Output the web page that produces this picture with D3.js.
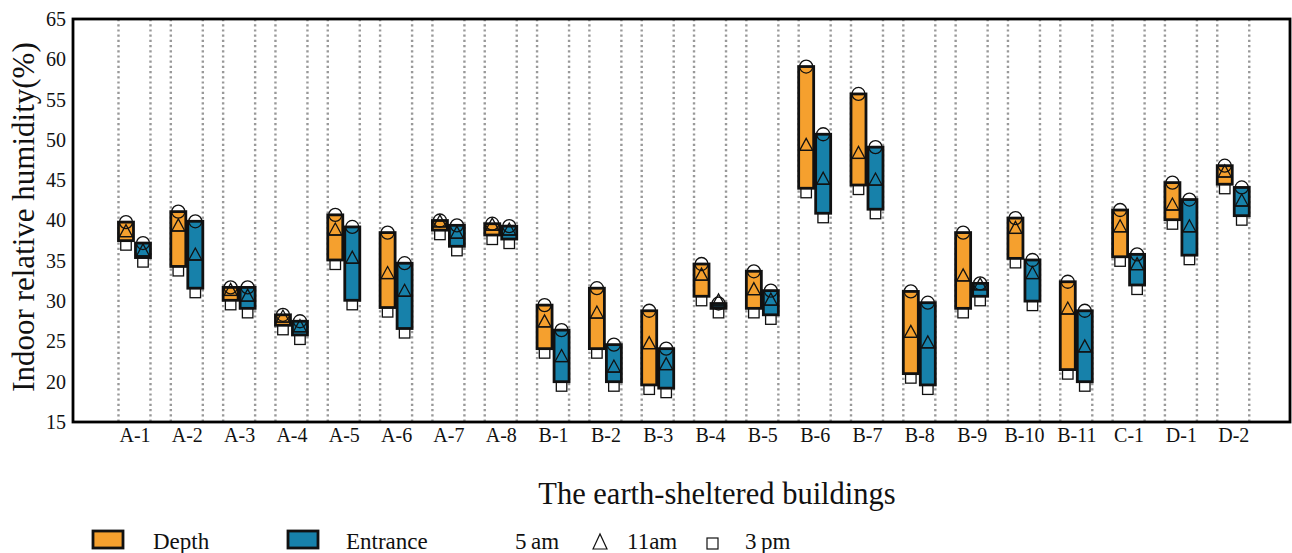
<!DOCTYPE html>
<html>
<head>
<meta charset="utf-8">
<script src="https://cdn.jsdelivr.net/npm/d3@7"></script>
<style>
  html, body { margin: 0; padding: 0; background: #fff; }
  svg text { font-family: "Liberation Serif", "Times New Roman", serif !important; }
</style>
</head>
<body>
<svg id="chart" width="1292" height="553"></svg>
<script>
// Indoor relative humidity of earth-sheltered buildings:
// each building has a Depth and an Entrance range (5 am → 3 pm), with the 11 am reading marked.
const categories = ["A-1","A-2","A-3","A-4","A-5","A-6","A-7","A-8",
  "B-1","B-2","B-3","B-4","B-5","B-6","B-7","B-8","B-9","B-10","B-11",
  "C-1","D-1","D-2"];

const depth5am  = [39.8,41.1,31.7,28.3,40.7,38.5,40.0,39.6,29.5,31.6,28.8,34.6,33.7,59.1,55.7,31.2,38.5,40.3,32.4,41.3,44.7,46.8];
const depth11am = [38.0,38.7,30.7,27.4,38.2,32.8,39.2,38.8,26.8,27.9,24.1,32.6,30.8,48.7,47.7,25.5,32.5,38.4,28.4,38.6,41.3,45.4];
const depth3pm  = [37.5,34.3,30.1,27.0,35.1,29.2,38.8,38.2,24.1,24.1,19.6,30.6,29.1,44.0,44.4,21.0,29.1,35.3,21.5,35.5,40.1,44.5];

const entrance5am  = [37.2,39.9,31.7,27.5,39.2,34.7,39.4,39.3,26.4,24.6,24.1,29.7,31.3,50.7,49.1,29.8,32.2,35.1,28.8,35.8,42.6,44.1];
const entrance11am = [35.6,35.1,30.0,26.2,34.7,30.6,37.8,38.2,22.5,21.2,21.5,29.4,29.5,44.5,44.4,24.2,31.4,32.8,23.7,33.9,38.6,41.8];
const entrance3pm  = [35.4,31.6,29.1,25.8,30.1,26.6,36.8,37.7,20.0,20.0,19.2,29.1,28.3,40.9,41.4,19.6,30.6,30.0,20.0,32.0,35.7,40.6];

const yTicks = [15,20,25,30,35,40,45,50,55,60,65];

const seriesNames = ["Depth", "Entrance"];
const seriesColors = ["#F5A02E", "#1781AA"];
const timeLabels = ["5\u2009am", "11am", "3\u2009pm"];

const svg = d3.select("#chart");
const plot = { left: 73, right: 1290, top: 19, bottom: 422 };

const x = d3.scalePoint().domain(categories).range([plot.left, plot.right]).padding(1.13).align(0.52);
const y = d3.scaleLinear().domain([15, 65]).range([plot.bottom, plot.top]);

const halfW = 16;   // half of a building's slot (two bars side by side)
const barW = 15;

// dotted separators at the outer edges of each building's pair of bars
const grid = svg.append("g");
categories.forEach(c => {
  [x(c) - halfW, x(c) + halfW].forEach(gx => {
    grid.append("line")
      .attr("x1", gx).attr("x2", gx)
      .attr("y1", plot.top).attr("y2", plot.bottom)
      .attr("stroke", "#999").attr("stroke-width", 2.4)
      .attr("stroke-dasharray", "2.2,3");
  });
});

// build row records from the arrays
const rows = [];
categories.forEach((c, i) => {
  rows.push({ cat: c, s: 0, am5: depth5am[i], am11: depth11am[i], pm3: depth3pm[i] });
  rows.push({ cat: c, s: 1, am5: entrance5am[i], am11: entrance11am[i], pm3: entrance3pm[i] });
});
const barX = d => d.s === 0 ? x(d.cat) - 1 - barW : x(d.cat) + 1;
const barC = d => barX(d) + barW / 2;

const marks = svg.append("g");
const sq = 10.5;

// 3 pm squares hang just under each bar
marks.selectAll("rect.pm3").data(rows).join("rect")
  .attr("class", "pm3")
  .attr("x", d => barC(d) - sq / 2)
  .attr("y", d => y(d.pm3) - 1)
  .attr("width", sq).attr("height", sq)
  .attr("fill", "#fff").attr("stroke", "#111").attr("stroke-width", 1.3);

// range bars
marks.selectAll("rect.bar").data(rows).join("rect")
  .attr("class", "bar")
  .attr("x", barX)
  .attr("y", d => y(d.am5))
  .attr("width", barW)
  .attr("height", d => y(d.pm3) - y(d.am5))
  .attr("fill", d => seriesColors[d.s])
  .attr("stroke", "#111").attr("stroke-width", 2.8);

// 5 am circles centred on the bar top
marks.selectAll("circle.am5").data(rows).join("circle")
  .attr("class", "am5")
  .attr("cx", barC).attr("cy", d => y(d.am5)).attr("r", 6.5)
  .attr("fill", "none").attr("stroke", "#111").attr("stroke-width", 1.3);

// 11 am: level line across the bar and a triangle standing on it
marks.selectAll("line.am11").data(rows).join("line")
  .attr("class", "am11")
  .attr("x1", d => barX(d)).attr("x2", d => barX(d) + barW)
  .attr("y1", d => y(d.am11)).attr("y2", d => y(d.am11))
  .attr("stroke", "#111").attr("stroke-width", 1.3);

const tri = (cx, by, w, h) => `M${cx - w / 2},${by} L${cx},${by - h} L${cx + w / 2},${by} Z`;
marks.selectAll("path.am11").data(rows).join("path")
  .attr("class", "am11")
  .attr("d", d => tri(barC(d), y(d.am11), 13, 12))
  .attr("fill", "none").attr("stroke", "#111").attr("stroke-width", 1.3)
  .attr("stroke-linejoin", "miter");

// frame
svg.append("rect")
  .attr("x", plot.left).attr("y", plot.top)
  .attr("width", plot.right - plot.left).attr("height", plot.bottom - plot.top)
  .attr("fill", "none").attr("stroke", "#000").attr("stroke-width", 2.8);

// axes
const yAxis = svg.append("g")
  .attr("transform", `translate(${plot.left},0)`)
  .call(d3.axisLeft(y).tickValues(yTicks).tickSize(0).tickPadding(7));
yAxis.select(".domain").remove();
yAxis.selectAll("text").attr("font-size", 20).attr("fill", "#111");

const xAxis = svg.append("g")
  .attr("transform", `translate(0,${plot.bottom})`)
  .call(d3.axisBottom(x).tickSize(0).tickPadding(6));
xAxis.select(".domain").remove();
xAxis.selectAll("text").attr("font-size", 20).attr("fill", "#111");

// axis titles
svg.append("text")
  .attr("transform", `translate(34,217) rotate(-90)`)
  .attr("text-anchor", "middle")
  .attr("font-size", 31).attr("fill", "#111")
  .text("Indoor relative humidity(%)");

svg.append("text")
  .attr("x", 717).attr("y", 504)
  .attr("text-anchor", "middle")
  .attr("font-size", 30.5).attr("fill", "#111")
  .text("The earth-sheltered buildings");

// legend
const legend = svg.append("g").attr("font-size", 23).attr("fill", "#111");
const swatchX = [93, 288];
const labelX = [153, 346];
seriesNames.forEach((name, i) => {
  legend.append("rect")
    .attr("x", swatchX[i]).attr("y", 531).attr("width", 30).attr("height", 17)
    .attr("fill", seriesColors[i]).attr("stroke", "#111").attr("stroke-width", 2.8);
  legend.append("text").attr("x", labelX[i]).attr("y", 549).text(name);
});
legend.append("text").attr("x", 515).attr("y", 549).text(timeLabels[0]);
legend.append("path")
  .attr("d", tri(600, 549, 14, 15))
  .attr("fill", "none").attr("stroke", "#111").attr("stroke-width", 1.2);
legend.append("text").attr("x", 627).attr("y", 549).text(timeLabels[1]);
legend.append("rect")
  .attr("x", 707).attr("y", 538).attr("width", 11).attr("height", 11)
  .attr("fill", "#fff").attr("stroke", "#111").attr("stroke-width", 1.2);
legend.append("text").attr("x", 745).attr("y", 549).text(timeLabels[2]);
</script>
</body>
</html>
